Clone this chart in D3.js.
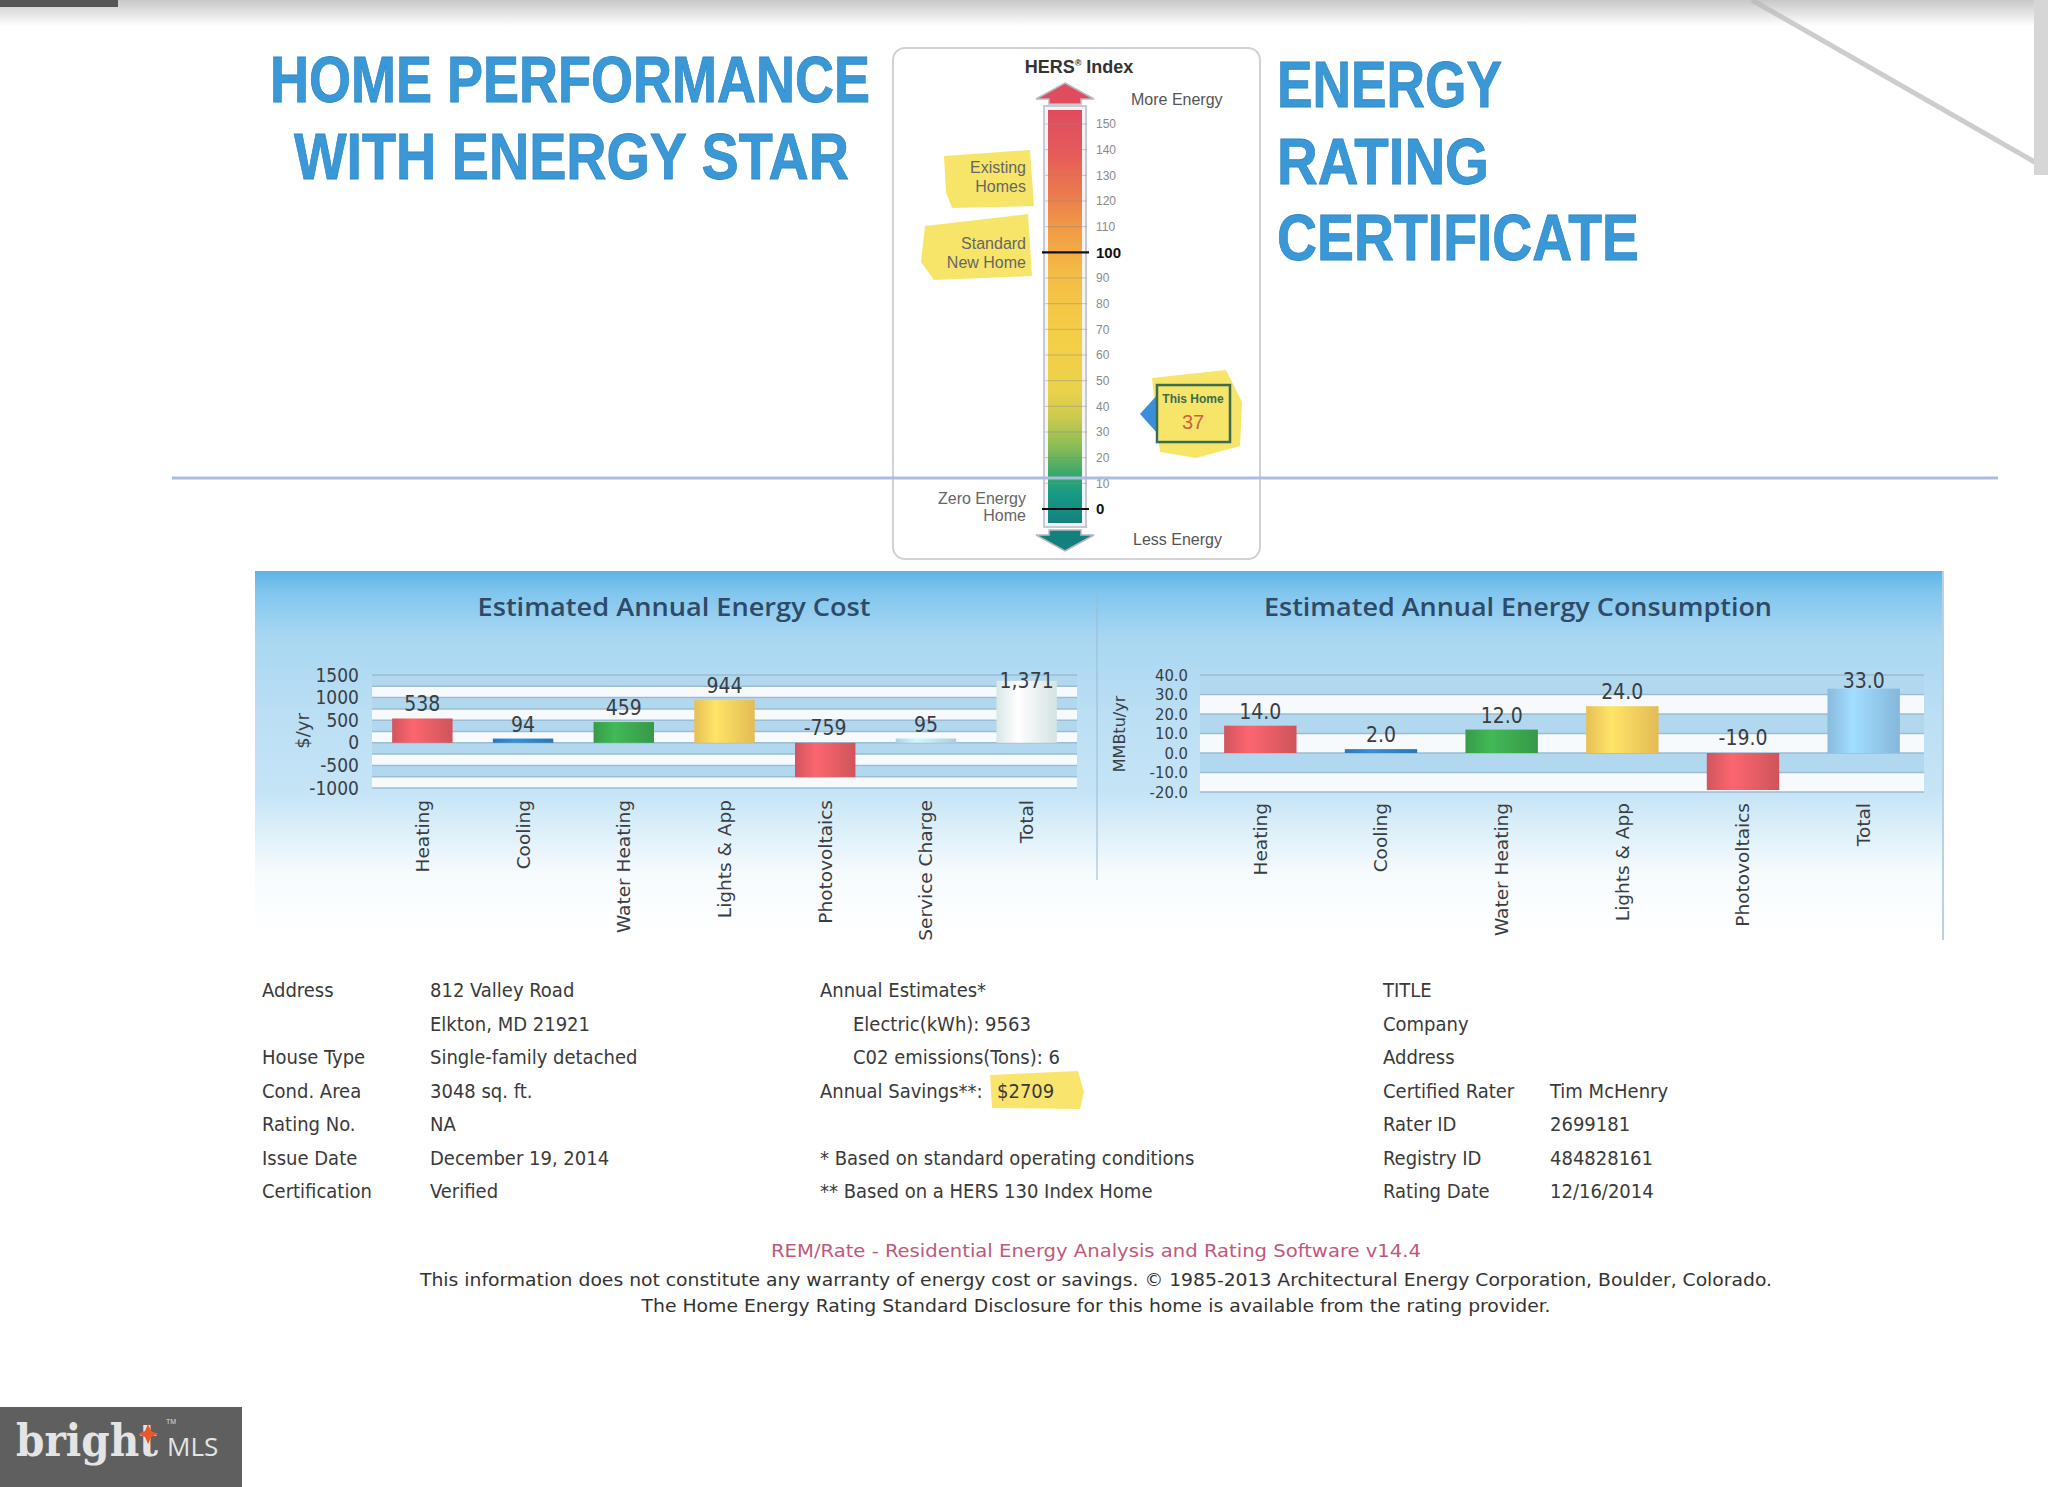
<!DOCTYPE html>
<html>
<head>
<meta charset="utf-8">
<script src="https://cdn.jsdelivr.net/npm/d3@7"></script>
<style>
body { margin: 0; background: #fff; }
svg { display: block; }
</style>
</head>
<body>
<script>
const costCategories = ["Heating", "Cooling", "Water Heating", "Lights & App", "Photovoltaics", "Service Charge", "Total"];
const costValues = [538, 94, 459, 944, -759, 95, 1371];
const costTicks = [1500, 1000, 500, 0, -500, -1000];
const costGrid = [1500, 1250, 1000, 750, 500, 250, 0, -250, -500, -750, -1000];

const consCategories = ["Heating", "Cooling", "Water Heating", "Lights & App", "Photovoltaics", "Total"];
const consValues = [14.0, 2.0, 12.0, 24.0, -19.0, 33.0];
const consTicks = [40, 30, 20, 10, 0, -10, -20];
const consGrid = [40, 30, 20, 10, 0, -10, -20];

const hersTicks = [150, 140, 130, 120, 110, 100, 90, 80, 70, 60, 50, 40, 30, 20, 10, 0];
const hersRating = 37;

const infoLabels = ["Address", "", "House Type", "Cond. Area", "Rating No.", "Issue Date", "Certification"];
const infoValues = ["812 Valley Road", "Elkton, MD 21921", "Single-family detached", "3048 sq. ft.", "NA", "December 19, 2014", "Verified"];
const raterLabels = ["TITLE", "Company", "Address", "Certified Rater", "Rater ID", "Registry ID", "Rating Date"];
const raterValues = ["", "", "", "Tim McHenry", "2699181", "484828161", "12/16/2014"];

const costColors = ["#de5a62", "#2f7fbf", "#3aa34d", "#f4c95b", "#de5a62", "#b9dbef", "#e4f4f3"];
const consColors = ["#de5a62", "#2f7fbf", "#3aa34d", "#f4c95b", "#de5a62", "#8fc4ea"];

const W = 2048, H = 1487;
const narrow = "'Liberation Sans Narrow', 'DejaVu Sans Condensed', 'Arial Narrow', sans-serif";
const cond = "'DejaVu Sans Condensed', 'Liberation Sans Narrow', sans-serif";
const dv = "'DejaVu Sans', Verdana, sans-serif";

const svg = d3.select("body").append("svg").attr("width", W).attr("height", H);
const defs = svg.append("defs");

// scan edge shading
const topShade = defs.append("linearGradient").attr("id", "topShade").attr("x1", 0).attr("x2", 0).attr("y1", 0).attr("y2", 1);
topShade.append("stop").attr("offset", 0).attr("stop-color", "#c8c8c8");
topShade.append("stop").attr("offset", 1).attr("stop-color", "#fff");
svg.append("rect").attr("x", 0).attr("y", 0).attr("width", W).attr("height", 26).attr("fill", "url(#topShade)");
svg.append("rect").attr("x", 0).attr("y", 0).attr("width", 118).attr("height", 7).attr("fill", "#555");
svg.append("line").attr("x1", 1752).attr("y1", 0).attr("x2", 2040).attr("y2", 165)
  .attr("stroke", "#b9b9b9").attr("stroke-width", 5).attr("opacity", 0.7);
svg.append("rect").attr("x", 2034).attr("y", 0).attr("width", 14).attr("height", 175).attr("fill", "#d6d6d6");

// ---- titles ----
const titleFont = "'Open Sans', 'DejaVu Sans', sans-serif";
function bigTitle(txt, x, y, len) {
  svg.append("text").attr("x", x).attr("y", y).text(txt)
    .attr("font-family", "'Liberation Sans', Arial, sans-serif").attr("font-weight", 700).attr("font-size", 65)
    .attr("textLength", len).attr("lengthAdjust", "spacingAndGlyphs")
    .attr("fill", "#3a98d6").attr("stroke", "#2f88c6").attr("stroke-width", 0.8);
}
bigTitle("HOME PERFORMANCE", 270, 102, 600);
bigTitle("WITH ENERGY STAR", 294, 179, 555);
bigTitle("ENERGY", 1277, 107, 225);
bigTitle("RATING", 1277, 184, 212);
bigTitle("CERTIFICATE", 1277, 260, 362);

// ---- HERS index scale ----
const hers = d3.scaleLinear().domain([0, 150]).range([509, 124]);
const hg = svg.append("g");
hg.append("rect").attr("x", 893).attr("y", 48).attr("width", 367).attr("height", 511).attr("rx", 12)
  .attr("fill", "#fff").attr("stroke", "#d2d2d6").attr("stroke-width", 2);

const hersGrad = defs.append("linearGradient").attr("id", "hersGrad").attr("x1", 0).attr("x2", 0).attr("y1", 0).attr("y2", 1);
[[0, "#e04b5e"], [0.1, "#e45a5a"], [0.2, "#eb7a4d"], [0.3, "#f29f45"], [0.4, "#f4bd46"], [0.55, "#f4cf46"],
 [0.68, "#ebd24b"], [0.75, "#c9c94f"], [0.82, "#85bb57"], [0.88, "#3aa86b"], [0.93, "#179a86"], [1, "#14807d"]]
  .forEach(s => hersGrad.append("stop").attr("offset", s[0]).attr("stop-color", s[1]));

// highlighter marks
const hl = "#f6e04f";
hg.append("path").attr("d", "M944,156 L1030,150 L1034,206 L952,208 L946,192 Z").attr("fill", hl).attr("opacity", 0.85);
hg.append("path").attr("d", "M925,226 L1028,214 L1032,276 L934,280 L921,262 Z").attr("fill", hl).attr("opacity", 0.85);
hg.append("path").attr("d", "M1152,378 L1226,370 L1242,402 L1240,446 L1196,458 L1160,452 Z").attr("fill", hl).attr("opacity", 0.85);

hg.append("rect").attr("x", 1044).attr("y", 106).attr("width", 42).attr("height", 421)
  .attr("fill", "#f4f4f8").attr("stroke", "#c9c9d3").attr("stroke-width", 2);
hg.append("rect").attr("x", 1048).attr("y", 110).attr("width", 34).attr("height", 413).attr("fill", "url(#hersGrad)");

hg.append("polygon").attr("points", "1065,83 1094,99 1081,99 1081,104 1049,104 1049,99 1036,99")
  .attr("fill", "#e04b5e").attr("stroke", "#b8b8c2").attr("stroke-width", 1.5);
hg.append("polygon").attr("points", "1065,551 1094,535 1081,535 1081,530 1049,530 1049,535 1036,535")
  .attr("fill", "#14807d").attr("stroke", "#b8b8c2").attr("stroke-width", 1.5);

hg.selectAll(".htick").data(hersTicks).join("line")
  .attr("x1", d => (d % 100 === 0 ? 1042 : 1045)).attr("x2", d => (d % 100 === 0 ? 1089 : 1087))
  .attr("y1", d => hers(d)).attr("y2", d => hers(d))
  .attr("stroke", d => (d % 100 === 0 ? "#111" : "#8a8a8a"))
  .attr("stroke-width", d => (d % 100 === 0 ? 2.2 : 0.8))
  .attr("opacity", d => (d % 100 === 0 ? 1 : 0.55));
hg.selectAll(".hlab").data(hersTicks).join("text")
  .attr("x", 1096).attr("y", d => hers(d)).attr("dy", "0.35em")
  .text(d => d)
  .attr("font-family", "'Liberation Sans', Arial, sans-serif")
  .attr("font-size", d => (d % 100 === 0 ? 15 : 12))
  .attr("font-weight", d => (d % 100 === 0 ? 700 : 400))
  .attr("fill", d => (d % 100 === 0 ? "#111" : "#8a8a8a"));

const hText = (t, x, y, size, anchor, fill, weight) =>
  hg.append("text").attr("x", x).attr("y", y).text(t).attr("text-anchor", anchor)
    .attr("font-family", "'Liberation Sans', Arial, sans-serif").attr("font-size", size)
    .attr("fill", fill).attr("font-weight", weight || 400);
const hersTitle = hg.append("text").attr("x", 1079).attr("y", 73).attr("text-anchor", "middle")
  .attr("font-family", "'Liberation Sans', Arial, sans-serif").attr("font-size", 18).attr("font-weight", 700).attr("fill", "#333");
hersTitle.append("tspan").text("HERS");
hersTitle.append("tspan").text("®").attr("font-size", 9).attr("dy", -7);
hersTitle.append("tspan").text(" Index").attr("dy", 7);
hText("More Energy", 1131, 105, 16, "start", "#555");
hText("Less Energy", 1133, 545, 16, "start", "#555");
hText("Existing", 1026, 173, 16, "end", "#666");
hText("Homes", 1026, 192, 16, "end", "#666");
hText("Standard", 1026, 249, 16, "end", "#666");
hText("New Home", 1026, 268, 16, "end", "#666");
hText("Zero Energy", 1026, 504, 16, "end", "#666");
hText("Home", 1026, 521, 16, "end", "#666");

// this home marker
const hy = hers(hersRating);
hg.append("polygon").attr("points", `1140,${hy} 1158,${hy - 20} 1158,${hy + 20}`).attr("fill", "#3b8fd8");
hg.append("rect").attr("x", 1157).attr("y", hy - 29).attr("width", 73).attr("height", 57)
  .attr("fill", "none").attr("stroke", "#3d6b4f").attr("stroke-width", 2.5);
hg.append("text").attr("x", 1193).attr("y", hy - 11).attr("text-anchor", "middle").text("This Home")
  .attr("font-family", "'Liberation Sans Narrow', 'Liberation Sans', sans-serif").attr("font-size", 12)
  .attr("font-weight", 700).attr("fill", "#3d6b4f");
hg.append("text").attr("x", 1193).attr("y", hy + 15).attr("text-anchor", "middle").text(hersRating)
  .attr("font-family", "'Liberation Sans', Arial, sans-serif").attr("font-size", 20).attr("fill", "#c8653a");

// separator line across the page
svg.append("line").attr("x1", 172).attr("x2", 1998).attr("y1", 478).attr("y2", 478)
  .attr("stroke", "#a9bedf").attr("stroke-width", 3);

// ---- chart panel ----
const panelGrad = defs.append("linearGradient").attr("id", "panelBg").attr("x1", 0).attr("x2", 0).attr("y1", 0).attr("y2", 1);
[[0, "#5db4e7"], [0.06, "#82c6ee"], [0.18, "#a9d7f2"], [0.4, "#bcdff4"], [0.6, "#c5e4f6"], [0.7, "#dceff9"],
 [0.82, "#f6fbfe"], [1, "#ffffff"]].forEach(s => panelGrad.append("stop").attr("offset", s[0]).attr("stop-color", s[1]));
svg.append("rect").attr("x", 255).attr("y", 571).attr("width", 1688).attr("height", 369).attr("fill", "url(#panelBg)");
svg.append("line").attr("x1", 1943).attr("x2", 1943).attr("y1", 571).attr("y2", 940)
  .attr("stroke", "#b9d2e2").attr("stroke-width", 2);
svg.append("line").attr("x1", 1097).attr("x2", 1097).attr("y1", 585).attr("y2", 880)
  .attr("stroke", "#9dbcd2").attr("stroke-width", 1.5).attr("opacity", 0.7);

function barGradient(id, color) {
  const c = d3.color(color);
  const g = defs.append("linearGradient").attr("id", id).attr("x1", 0).attr("x2", 1).attr("y1", 0).attr("y2", 0);
  g.append("stop").attr("offset", 0).attr("stop-color", c.darker(0.15));
  g.append("stop").attr("offset", 0.35).attr("stop-color", c.brighter(0.35));
  g.append("stop").attr("offset", 1).attr("stop-color", c.darker(0.2));
}

function barChart(o) {
  const g = svg.append("g");
  const x = d3.scaleBand().domain(o.categories).range([o.left, o.right]).paddingInner(0.4).paddingOuter(0.2);
  const y = d3.scaleLinear().domain([o.min, o.max]).range([o.bottom, o.top]);

  g.append("text").attr("x", o.titleX).attr("y", 616).attr("text-anchor", "middle").text(o.title)
    .attr("font-family", titleFont).attr("font-weight", 600).attr("font-size", 26)
    .attr("textLength", o.titleLen).attr("lengthAdjust", "spacingAndGlyphs").attr("fill", "#2e4a66");

  g.append("rect").attr("x", o.left).attr("y", y(o.max)).attr("width", o.right - o.left)
    .attr("height", y(o.min) - y(o.max)).attr("fill", "#b2d8ef");
  g.selectAll(".stripe").data(d3.pairs(o.grid).filter((p, i) => i % 2 === 1)).join("rect")
    .attr("x", o.left).attr("width", o.right - o.left)
    .attr("y", d => y(d[0])).attr("height", d => y(d[1]) - y(d[0])).attr("fill", "#f6fafd");
  g.selectAll(".grid").data(o.grid).join("line")
    .attr("x1", o.left).attr("x2", o.right).attr("y1", d => y(d)).attr("y2", d => y(d))
    .attr("stroke", "#9bbcd3").attr("stroke-width", 1.5);

  o.colors.forEach((c, i) => barGradient(`${o.id}-g${i}`, c));
  g.selectAll(".bar").data(o.values).join("rect")
    .attr("x", (d, i) => x(o.categories[i])).attr("width", x.bandwidth())
    .attr("y", d => y(Math.max(0, d))).attr("height", d => Math.abs(y(d) - y(0)))
    .attr("fill", (d, i) => `url(#${o.id}-g${i})`);

  g.selectAll(".val").data(o.values).join("text")
    .attr("x", (d, i) => x(o.categories[i]) + x.bandwidth() / 2)
    .attr("y", d => (d >= 0 ? Math.max(y(d) - 7, y(o.max) + 13) : y(0) - 8))
    .attr("text-anchor", "middle").text(o.valueFormat)
    .attr("font-family", narrow).attr("font-size", 21).attr("fill", "#3a3d42");

  const yAxis = d3.axisLeft(y).tickValues(o.ticks).tickSize(0).tickPadding(0).tickFormat(o.tickFormat);
  g.append("g").attr("transform", `translate(${o.tickX},0)`).call(yAxis)
    .call(a => a.select(".domain").remove())
    .selectAll("text").attr("font-family", narrow).attr("font-size", o.tickSize).attr("fill", "#3a3f45");

  const xAxis = d3.axisBottom(x).tickSize(0);
  g.append("g").attr("transform", `translate(0,${o.labelY})`).call(xAxis)
    .call(a => a.select(".domain").remove())
    .selectAll("text").attr("transform", "rotate(-90)").attr("x", 0).attr("y", 0).attr("dy", "0.35em")
    .style("text-anchor", "end").attr("font-family", dv).attr("font-size", 18.5).attr("fill", "#3a3d42");

  g.append("text").attr("transform", `translate(${o.unitX},${o.unitY}) rotate(-90)`).attr("dy", "0.35em")
    .attr("text-anchor", "middle").text(o.unit)
    .attr("font-family", dv).attr("font-size", o.unitSize).attr("fill", "#3a3f45");
}

const signed = f => v => (v < 0 ? "-" : "") + f(Math.abs(v));

barChart({
  id: "cost", title: "Estimated Annual Energy Cost", titleX: 674, titleLen: 393,
  categories: costCategories, values: costValues, colors: costColors,
  ticks: costTicks, grid: costGrid, min: -1000, max: 1500,
  left: 372, right: 1077, top: 675, bottom: 788, tickX: 359, tickSize: 19,
  tickFormat: signed(d3.format("d")), valueFormat: signed(d3.format(",")),
  labelY: 800, unit: "$/yr", unitX: 303, unitY: 731, unitSize: 18
});

barChart({
  id: "cons", title: "Estimated Annual Energy Consumption", titleX: 1518, titleLen: 508,
  categories: consCategories, values: consValues, colors: consColors,
  ticks: consTicks, grid: consGrid, min: -20, max: 40,
  left: 1200, right: 1924, top: 675, bottom: 792, tickX: 1188, tickSize: 16.5,
  tickFormat: signed(d3.format(".1f")), valueFormat: signed(d3.format(".1f")),
  labelY: 803, unit: "MMBtu/yr", unitX: 1119, unitY: 734, unitSize: 16
});

// ---- info block ----
const rowY = i => 997 + i * 33.5;
const info = svg.append("g").attr("font-family", cond).attr("font-size", 20).attr("fill", "#3a3a3a");
const put = (t, x, i) => info.append("text").attr("x", x).attr("y", rowY(i)).text(t);
infoLabels.forEach((t, i) => put(t, 262, i));
infoValues.forEach((t, i) => put(t, 430, i));
raterLabels.forEach((t, i) => put(t, 1383, i));
raterValues.forEach((t, i) => put(t, 1550, i));
info.append("path").attr("d", "M990,1075 L1078,1071 L1084,1092 L1080,1109 L992,1108 Z").attr("fill", "#f7de4a").attr("opacity", 0.8);
put("Annual Estimates*", 820, 0);
put("Electric(kWh):  9563", 853, 1);
put("C02 emissions(Tons): 6", 853, 2);
put("Annual Savings**:", 820, 3);
put("$2709", 997, 3);
put("* Based on standard operating conditions", 820, 5);
put("** Based on a HERS 130 Index Home", 820, 6);

// ---- footer ----
const foot = (t, y, len, fill) => svg.append("text").attr("x", 1096).attr("y", y).attr("text-anchor", "middle").text(t)
  .attr("font-family", cond).attr("font-size", 18).attr("fill", fill)
  .attr("textLength", len).attr("lengthAdjust", "spacingAndGlyphs");
foot("REM/Rate - Residential Energy Analysis and Rating Software v14.4", 1257, 650, "#c0587a");
foot("This information does not constitute any warranty of energy cost or savings. \u00a9 1985-2013 Architectural Energy Corporation, Boulder, Colorado.", 1286, 1352, "#333");
foot("The Home Energy Rating Standard Disclosure for this home is available from the rating provider.", 1312, 909, "#333");

// ---- watermark ----
svg.append("rect").attr("x", 0).attr("y", 1407).attr("width", 242).attr("height", 80).attr("fill", "#5f5f5f");
svg.append("text").attr("x", 16).attr("y", 1456).text("bright")
  .attr("font-family", "'DejaVu Serif', 'Liberation Serif', serif").attr("font-size", 44).attr("font-weight", 700)
  .attr("fill", "#e4e4e4").attr("textLength", 142).attr("lengthAdjust", "spacingAndGlyphs");
svg.append("path").attr("d", "M148,1424 L151,1431 L158,1434 L151,1437 L148,1444 L145,1437 L138,1434 L145,1431 Z").attr("fill", "#e8582a");
svg.append("text").attr("x", 166).attr("y", 1424).text("TM").attr("font-family", "sans-serif").attr("font-size", 7).attr("fill", "#ddd");
svg.append("text").attr("x", 167).attr("y", 1456).text("MLS")
  .attr("font-family", "'Open Sans', 'DejaVu Sans', sans-serif").attr("font-size", 26).attr("fill", "#e4e4e4");
</script>
</body>
</html>
